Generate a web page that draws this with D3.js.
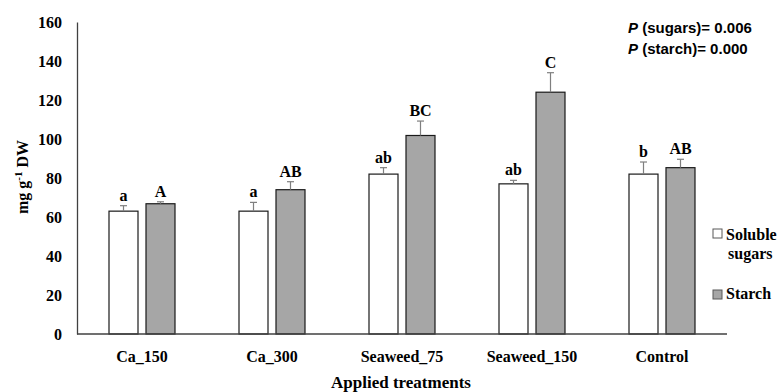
<!DOCTYPE html>
<html>
<head>
<meta charset="utf-8">
<script src="https://cdn.jsdelivr.net/npm/d3@7"></script>
<style>
body { margin: 0; background: #fff; }
svg text { font-family: "Liberation Serif", "Times New Roman", serif; font-weight: bold; }
</style>
</head>
<body>
<div id="chart"></div>
<script>
// chart values
const categories = ["Ca_150", "Ca_300", "Seaweed_75", "Seaweed_150", "Control"];
const series = ["Soluble sugars", "Starch"];
const sugars = [63, 63, 82, 77, 82];
const sugarsErr = [2.8, 4.5, 3.3, 1.8, 6.2];
const starch = [66.8, 74, 101.8, 124, 85.3];
const starchErr = [1, 4.1, 7.4, 10, 4.3];
const sugarsLetters = ["a", "a", "ab", "ab", "b"];
const starchLetters = ["A", "AB", "BC", "C", "AB"];
const yTicks = [0, 20, 40, 60, 80, 100, 120, 140, 160];
const pLines = [["P", " (sugars)= 0.006"], ["P", " (starch)= 0.000"]];

const width = 784, height = 392;
const margin = {top: 22, right: 57, bottom: 58, left: 77};

const svg = d3.select("#chart")
  .append("svg")
  .attr("width", width)
  .attr("height", height);

const x = d3.scaleBand()
  .domain(categories)
  .range([margin.left, width - margin.right]);

const xInner = d3.scaleBand()
  .domain(series)
  .range([x.bandwidth() / 2 - 33, x.bandwidth() / 2 + 33])
  .paddingInner(8 / 37);

const y = d3.scaleLinear()
  .domain([0, 160])
  .range([height - margin.bottom, margin.top]);

// build rows for the bars
const rows = [];
categories.forEach((c, i) => {
  rows.push({cat: c, s: series[0], v: sugars[i], e: sugarsErr[i], lab: sugarsLetters[i]});
  rows.push({cat: c, s: series[1], v: starch[i], e: starchErr[i], lab: starchLetters[i]});
});
const fillOf = s => s === series[0] ? "#ffffff" : "#a6a6a6";

// Y axis
const yAxis = svg.append("g")
  .attr("transform", `translate(${margin.left},0)`)
  .call(d3.axisLeft(y).tickValues(yTicks).tickSize(0).tickPadding(15));
yAxis.select(".domain").attr("stroke", "#404040").attr("stroke-width", 1.3);
yAxis.selectAll("text")
  .attr("font-size", 16)
  .attr("font-family", "Liberation Serif, serif")
  .attr("font-weight", "bold")
  .attr("fill", "#000");

// bars
const barG = svg.append("g");
barG.selectAll("rect")
  .data(rows)
  .join("rect")
  .attr("x", d => x(d.cat) + xInner(d.s))
  .attr("y", d => y(d.v))
  .attr("width", xInner.bandwidth())
  .attr("height", d => y(0) - y(d.v))
  .attr("fill", d => fillOf(d.s))
  .attr("stroke", "#1a1a1a")
  .attr("stroke-width", 1.2);

// error bars (upper only)
const errG = svg.append("g").attr("stroke", "#7f7f7f").attr("stroke-width", 1.2);
rows.forEach(d => {
  const cx = x(d.cat) + xInner(d.s) + xInner.bandwidth() / 2;
  errG.append("line")
    .attr("x1", cx).attr("x2", cx)
    .attr("y1", y(d.v)).attr("y2", y(d.v + d.e));
  errG.append("line")
    .attr("x1", cx - 3.5).attr("x2", cx + 3.5)
    .attr("y1", y(d.v + d.e)).attr("y2", y(d.v + d.e));
});

// significance letters
svg.append("g")
  .selectAll("text")
  .data(rows)
  .join("text")
  .attr("x", d => x(d.cat) + xInner(d.s) + xInner.bandwidth() / 2)
  .attr("y", d => y(d.v + d.e) - 5)
  .attr("text-anchor", "middle")
  .attr("font-size", 16)
  .text(d => d.lab);

// X axis line
svg.append("line")
  .attr("x1", margin.left).attr("x2", width - margin.right)
  .attr("y1", y(0)).attr("y2", y(0))
  .attr("stroke", "#404040")
  .attr("stroke-width", 1.3);

// category labels
svg.append("g")
  .selectAll("text")
  .data(categories)
  .join("text")
  .attr("x", d => x(d) + x.bandwidth() / 2)
  .attr("y", y(0) + 28)
  .attr("text-anchor", "middle")
  .attr("font-size", 16)
  .text(d => d);

// x axis title
svg.append("text")
  .attr("x", 401)
  .attr("y", 388)
  .attr("text-anchor", "middle")
  .attr("font-size", 17)
  .text("Applied treatments");

// y axis title
const yTitle = svg.append("text")
  .attr("transform", "translate(28,177) rotate(-90)")
  .attr("text-anchor", "middle")
  .attr("font-size", 16);
yTitle.append("tspan").text("mg g");
yTitle.append("tspan").attr("font-size", 11).attr("dy", -6).text("-1");
yTitle.append("tspan").attr("dy", 6).text(" DW");

// P values
const pText = svg.append("g")
  .selectAll("text")
  .data(pLines)
  .join("text")
  .attr("x", 628)
  .attr("y", (d, i) => 33 + i * 21)
  .attr("font-size", 15)
  .style("font-family", "Liberation Sans, Arial, sans-serif");
pText.append("tspan").attr("font-style", "italic").text(d => d[0]);
pText.append("tspan").text(d => d[1]);

// legend
const legend = svg.append("g");
legend.append("rect")
  .attr("x", 713).attr("y", 229).attr("width", 9).attr("height", 9)
  .attr("fill", fillOf(series[0])).attr("stroke", "#595959");
legend.append("text").attr("x", 726).attr("y", 240).attr("font-size", 16).text("Soluble");
legend.append("text").attr("x", 728).attr("y", 259).attr("font-size", 16).text("sugars");
legend.append("rect")
  .attr("x", 713).attr("y", 290).attr("width", 9).attr("height", 9)
  .attr("fill", fillOf(series[1])).attr("stroke", "#595959");
legend.append("text").attr("x", 726).attr("y", 299).attr("font-size", 16).text("Starch");
</script>
</body>
</html>
